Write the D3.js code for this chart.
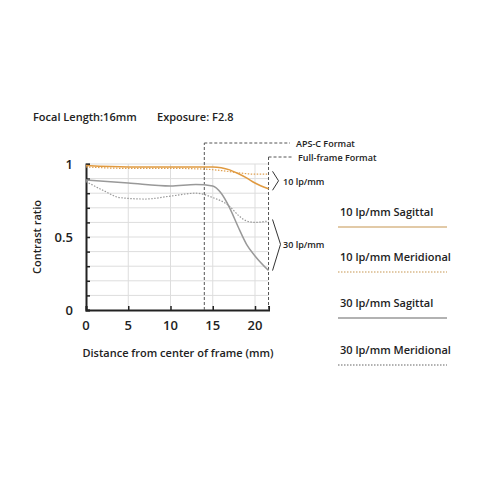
<!DOCTYPE html><html><head><script src="https://cdn.jsdelivr.net/npm/d3@7"></script>
<style>body{margin:0;background:#fff}text{font-family:"Open Sans",Arial,sans-serif;font-weight:600;fill:#222}</style></head><body><svg id="c" width="480" height="480"></svg><script>
const xs10S=[0,5,10,15,16,17,18,19,20,21.6], ys10S=[0.99,0.98,0.98,0.98,0.975,0.96,0.935,0.905,0.87,0.83];
const xs10M=[0,5,10,14,16,18,20,21.6], ys10M=[0.98,0.97,0.97,0.965,0.955,0.94,0.93,0.93];
const xs30S=[0,5,10,13,15,16,17,18,19,20,21.6], ys30S=[0.89,0.87,0.85,0.86,0.85,0.80,0.70,0.57,0.45,0.37,0.27];
const xs30M=[0,2,4,7,10,13,15,17,18,19,20,21.6], ys30M=[0.88,0.82,0.77,0.76,0.78,0.80,0.77,0.71,0.65,0.61,0.60,0.61];
const xTicks=[0,5,10,15,20], yTicks=[0,0.5,1];
const legend=["10 lp/mm Sagittal","10 lp/mm Meridional","30 lp/mm Sagittal","30 lp/mm Meridional"];
const svg=d3.select("#c");
const x=d3.scaleLinear([0,20],[86,255]), y=d3.scaleLinear([0,1],[310,164]);
const g=svg.append("g");
// grid
d3.range(0.1,1.001,0.1).forEach(v=>g.append("line").attr("x1",x(0)).attr("x2",x(21.6)).attr("y1",y(v)).attr("y2",y(v)).attr("stroke","#ddd"));
[5,10,15,20].forEach(v=>g.append("line").attr("x1",x(v)).attr("x2",x(v)).attr("y1",y(0)).attr("y2",y(1)).attr("stroke","#ddd"));
const ya=g.append("g").attr("transform",`translate(${x(0)},0)`).call(d3.axisLeft(y).tickValues(d3.range(0,1.001,0.1)).tickSize(-4).tickFormat(""));
ya.select(".domain").attr("stroke","#222").attr("stroke-width",2);ya.selectAll("line").attr("stroke","#222").attr("stroke-width",1.5);
yTicks.forEach(v=>g.append("text").attr("x",x(0)-13).attr("y",y(v)+5).attr("text-anchor","end").attr("font-size",13).text(v));
const xa=g.append("g").attr("transform",`translate(0,${y(0)})`).call(d3.axisBottom(x.copy().domain([0,21.6]).range([86,x(21.6)])).tickValues(xTicks).tickSize(-4).tickFormat(""));
xa.select(".domain").attr("stroke","#222").attr("stroke-width",2);xa.selectAll("line").attr("stroke","#222").attr("stroke-width",1.5);
xTicks.forEach(v=>g.append("text").attr("x",x(v)).attr("y",y(0)+20).attr("text-anchor","middle").attr("font-size",13).text(v));
g.append("text").attr("x",41).attr("y",237).attr("transform","rotate(-90,41,237)").attr("text-anchor","middle").attr("font-size",11).text("Contrast ratio");
g.append("text").attr("x",178).attr("y",357).attr("text-anchor","middle").attr("font-size",11).text("Distance from center of frame (mm)");
g.append("text").attr("x",33).attr("y",121).attr("font-size",11).text("Focal Length:16mm");
g.append("text").attr("x",157).attr("y",121).attr("font-size",11).text("Exposure: F2.8");
// format boxes
const dash={stroke:"#555","stroke-dasharray":"3,2","stroke-width":1};
function dl(x1,y1,x2,y2){const l=g.append("line").attr("x1",x1).attr("y1",y1).attr("x2",x2).attr("y2",y2);for(const k in dash)l.attr(k,dash[k]);}
dl(x(14),y(0),x(14),143);dl(x(14),143,290,143);
dl(x(21.6),y(0),x(21.6),157);dl(x(21.6),157,292,157);
g.append("text").attr("x",296).attr("y",147).attr("font-size",9).text("APS-C Format");
g.append("text").attr("x",298).attr("y",161).attr("font-size",9).text("Full-frame Format");
// series
const ln=d3.line().x(d=>x(d[0])).y(d=>y(d[1])).curve(d3.curveMonotoneX);
function s(xs,ys,c,da,w){g.append("path").attr("d",ln(xs.map((v,i)=>[v,ys[i]]))).attr("fill","none").attr("stroke",c).attr("stroke-width",w).attr("stroke-dasharray",da);}
s(xs10M,ys10M,"#e0a050","1.5,1.5",1.2);
s(xs10S,ys10S,"#e09a40",null,1.5);
s(xs30M,ys30M,"#999","1.5,1.5",1.2);
s(xs30S,ys30S,"#999",null,1.5);
// braces
g.append("path").attr("d",`M${x(21.6)+4},${y(0.95)} L${x(21.6)+10},${y(0.885)} L${x(21.6)+4},${y(0.82)}`).attr("fill","none").attr("stroke","#333");
g.append("text").attr("x",283).attr("y",y(0.885)+4).attr("font-size",9).text("10 lp/mm");
g.append("path").attr("d",`M${x(21.6)+4},${y(0.62)} L${x(21.6)+12},${y(0.45)} L${x(21.6)+4},${y(0.27)}`).attr("fill","none").attr("stroke","#333");
g.append("text").attr("x",283).attr("y",y(0.45)+4).attr("font-size",9).text("30 lp/mm");
// legend
const lc=[["#d9b98a",null],["#d9b98a","1.5,1.5"],["#999",null],["#999","1.5,1.5"]], ly=[227,272,318,365];
legend.forEach((t,i)=>{g.append("text").attr("x",340).attr("y",ly[i]-11).attr("font-size",11).text(t);
g.append("line").attr("x1",338).attr("x2",447).attr("y1",ly[i]).attr("y2",ly[i]).attr("stroke",lc[i][0]).attr("stroke-width",1.5).attr("stroke-dasharray",lc[i][1]);});
</script></body></html>
